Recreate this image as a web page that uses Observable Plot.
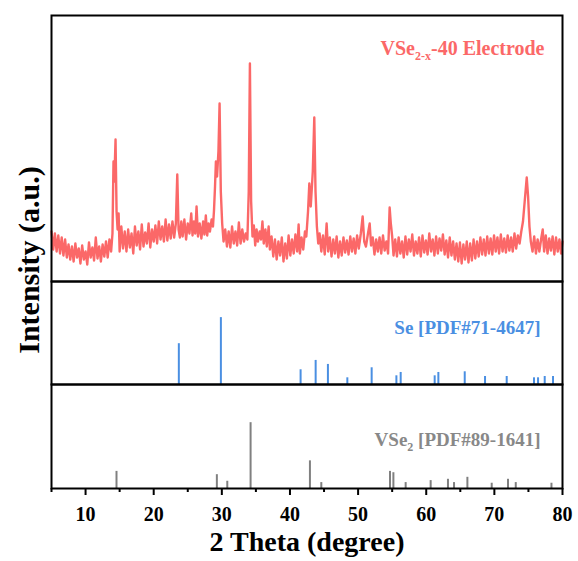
<!DOCTYPE html>
<html><head><meta charset="utf-8">
<script src="https://cdn.jsdelivr.net/npm/d3@7"></script>
<script src="https://cdn.jsdelivr.net/npm/@observablehq/plot@0.6"></script>
<style>
body{margin:0;background:#fff}
#chart{position:relative;width:578px;height:561px;font-family:"Liberation Serif",serif}
#chart svg{display:block}
#ylab{position:absolute;left:29px;top:260px;transform:translate(-50%,-50%) rotate(-90deg);font-weight:bold;font-size:30px;font-family:"Liberation Serif",serif;white-space:nowrap;color:#000}
</style></head><body><div id="chart"><span id="ylab">Intensity (a.u.)</span></div>
<script>
// XRD pattern of VSe2-x-40 electrode: [2θ, intensity (a.u.)]
const electrode = [[5.00,50],[5.25,32],[5.50,48],[5.75,30],[6.00,46],[6.25,28],[6.50,44],[6.75,26],[7.00,42],[7.25,24],[7.50,37],[7.75,22],[8.00,35],[8.25,20],[8.50,38],[8.75,24],[9.00,33],[9.25,18],[9.50,36],[9.75,22],[10.00,30],[10.25,17],[10.50,39],[10.75,24],[11.00,34],[11.25,21],[11.50,44],[11.75,23],[12.00,35],[12.25,20],[12.50,37],[12.75,25],[13.00,40],[13.25,24],[13.50,42],[13.75,30],[13.95,48],[14.10,120],[14.22,100],[14.40,142],[14.55,70],[14.70,52],[14.85,68],[15.00,30],[15.25,55],[15.50,33],[15.75,50],[16.00,30],[16.25,52],[16.50,34],[16.75,48],[17.00,28],[17.25,55],[17.50,36],[17.75,50],[18.00,32],[18.25,57],[18.50,35],[18.75,49],[19.00,38],[19.25,58],[19.50,34],[19.75,52],[20.00,40],[20.25,56],[20.50,38],[20.75,60],[21.00,42],[21.25,55],[21.50,40],[21.75,62],[22.00,41],[22.25,57],[22.50,43],[22.75,60],[23.00,44],[23.25,58],[23.46,107],[23.65,52],[23.85,44],[24.05,60],[24.25,45],[24.50,62],[24.75,42],[25.00,58],[25.25,48],[25.51,68],[25.70,46],[25.90,60],[26.10,48],[26.29,75],[26.50,45],[26.75,58],[27.00,43],[27.25,60],[27.45,47],[27.65,66],[27.85,46],[28.05,58],[28.25,50],[28.50,62],[28.70,55],[28.85,71],[29.00,95],[29.13,120],[29.30,105],[29.50,130],[29.67,178],[29.85,90],[30.05,58],[30.25,40],[30.50,52],[30.75,35],[31.00,50],[31.25,34],[31.50,55],[31.75,38],[32.00,50],[32.25,36],[32.50,59],[32.75,38],[33.00,52],[33.25,40],[33.50,48],[33.75,42],[33.95,90],[34.12,218],[34.30,80],[34.50,45],[34.70,56],[34.90,36],[35.10,52],[35.30,40],[35.55,50],[35.75,42],[35.96,60],[36.15,38],[36.40,52],[36.60,35],[36.87,55],[37.05,32],[37.30,45],[37.55,25],[37.80,42],[38.05,22],[38.30,40],[38.55,26],[38.80,44],[39.05,20],[39.30,38],[39.55,23],[39.80,46],[40.05,26],[40.30,42],[40.55,28],[40.80,47],[41.05,30],[41.27,57],[41.45,28],[41.70,44],[41.95,32],[42.20,50],[42.40,45],[42.65,70],[42.84,98],[43.05,75],[43.35,110],[43.57,164],[43.75,90],[43.95,55],[44.15,38],[44.35,48],[44.60,30],[44.85,46],[45.10,27],[45.38,58],[45.60,30],[45.85,44],[46.10,25],[46.35,42],[46.60,28],[46.85,45],[47.10,24],[47.35,40],[47.60,26],[47.85,44],[48.10,29],[48.35,41],[48.60,27],[48.85,45],[49.10,30],[49.35,43],[49.60,28],[49.85,46],[50.10,33],[50.40,48],[50.67,65],[50.90,40],[51.15,35],[51.45,48],[51.70,58],[51.90,36],[52.15,44],[52.40,27],[52.65,42],[52.90,30],[53.15,44],[53.40,28],[53.65,46],[53.90,31],[54.15,40],[54.40,28],[54.63,74],[54.80,58],[55.00,45],[55.20,26],[55.45,42],[55.70,25],[55.95,44],[56.20,28],[56.45,40],[56.70,24],[56.95,45],[57.20,27],[57.45,42],[57.70,30],[57.95,47],[58.20,26],[58.45,40],[58.70,28],[58.95,44],[59.20,25],[59.45,46],[59.70,29],[59.95,41],[60.20,27],[60.45,48],[60.70,30],[60.95,42],[61.20,26],[61.45,45],[61.70,28],[61.95,43],[62.20,31],[62.45,47],[62.70,27],[62.95,41],[63.20,24],[63.45,44],[63.70,26],[63.95,40],[64.20,22],[64.45,38],[64.70,20],[64.95,39],[65.20,18],[65.45,37],[65.70,22],[65.95,40],[66.20,19],[66.45,38],[66.70,21],[66.95,42],[67.20,23],[67.45,40],[67.70,25],[67.95,44],[68.20,27],[68.45,42],[68.70,26],[68.95,45],[69.20,28],[69.45,43],[69.70,27],[69.95,46],[70.20,30],[70.45,44],[70.70,28],[70.95,47],[71.20,30],[71.45,43],[71.70,29],[71.95,46],[72.20,31],[72.45,44],[72.70,30],[72.95,48],[73.20,33],[73.45,46],[73.70,38],[73.95,50],[74.20,60],[74.45,80],[74.75,104],[74.95,85],[75.15,55],[75.35,40],[75.60,30],[75.85,45],[76.10,28],[76.35,42],[76.60,30],[76.90,44],[77.10,52],[77.30,30],[77.55,46],[77.80,28],[78.05,43],[78.30,31],[78.55,45],[78.80,27],[79.05,44],[79.30,30],[79.55,42],[79.80,28],[80.00,40]];

// Se reference pattern [PDF#71-4647]
const seTheta = [23.69, 29.86, 41.56, 43.77, 45.57, 48.42, 51.99, 55.62, 56.25, 61.24, 61.78, 65.65, 68.63, 71.81, 75.82, 76.41, 77.39, 78.61];
const seIntensity = [61, 100, 22, 36, 30, 10, 25, 13, 18, 13, 18, 19, 12, 12, 10, 10, 12, 12];

// VSe2 reference pattern [PDF#89-1641]
const vse2Theta = [14.54, 29.27, 30.8, 34.22, 42.93, 44.6, 54.68, 55.18, 56.98, 60.65, 63.19, 64.08, 66.04, 69.61, 72.0, 73.14, 78.38];
const vse2Intensity = [26, 21, 11, 100, 42, 9, 26, 24, 9, 12, 14, 9, 17, 8, 14, 9, 8];

const xMajorTicks = [10, 20, 30, 40, 50, 60, 70, 80];
const xTickLabels = ["10", "20", "30", "40", "50", "60", "70", "80"];
const xMinorTicks = [5, 15, 25, 35, 45, 55, 65, 75];

const red = "#fb6868", blue = "#4a8fe2", gray = "#808080";
const font = "Liberation Serif";
const common = {width: 578, marginLeft: 51, marginRight: 16, style: {fontFamily: font, overflow: "visible", background: "transparent"}};

const p1 = Plot.plot({
  ...common, height: 281, marginTop: 15, marginBottom: 0,
  x: {domain: [5, 80], axis: null},
  y: {domain: [0, 266], axis: null},
  marks: [
    Plot.line(electrode, {x: d => d[0], y: d => d[1], stroke: red, strokeWidth: 2.4, strokeLinejoin: "round"}),
    Plot.frame({stroke: "#000", strokeWidth: 2}),
    Plot.text(["VSe2-x-40 Electrode"], {text: d => d, frameAnchor: "top-right", dx: -18, dy: 39, lineAnchor: "bottom", textAnchor: "end", fill: red, fontSize: 20, fontWeight: "bold"})
  ]
});

const p2 = Plot.plot({
  ...common, height: 103, marginTop: 0, marginBottom: 0,
  x: {domain: [5, 80], axis: null},
  y: {domain: [0, 154], axis: null},
  marks: [
    Plot.ruleX(seTheta, {x: d => d, y1: 0, y2: (d, i) => seIntensity[i], stroke: blue, strokeWidth: 2}),
    Plot.frame({stroke: "#000", strokeWidth: 2}),
    Plot.text(["Se [PDF#71-4647]"], {text: d => d, frameAnchor: "top-right", dx: -22, dy: 52, lineAnchor: "bottom", textAnchor: "end", fill: blue, fontSize: 19, fontWeight: "bold"})
  ]
});

const p3 = Plot.plot({
  ...common, height: 177, marginTop: 0, marginBottom: 73,
  x: {domain: [5, 80]},
  y: {domain: [0, 158], axis: null},
  marks: [
    Plot.ruleX(vse2Theta, {x: d => d, y1: 0, y2: (d, i) => vse2Intensity[i], stroke: gray, strokeWidth: 2}),
    Plot.frame({stroke: "#000", strokeWidth: 2}),
    Plot.axisX({ticks: xMinorTicks, tickSize: 4, text: null, strokeWidth: 2, label: null}),
    Plot.axisX({ticks: xMajorTicks, tickSize: 7, tickPadding: 11, tickFormat: (d) => xTickLabels[xMajorTicks.indexOf(d)], fontSize: 20, fontWeight: "bold", strokeWidth: 2, label: null, fill: "#000"}),
    Plot.text(["VSe2 [PDF#89-1641]"], {text: d => d, frameAnchor: "top-right", dx: -22, dy: 61, lineAnchor: "bottom", textAnchor: "end", fill: "#888", fontSize: 19, fontWeight: "bold"}),
    Plot.text(["2 Theta (degree)"], {text: d => d, frameAnchor: "bottom", dy: 62, lineAnchor: "bottom", fontSize: 28, fontWeight: "bold", fill: "#000"})
  ]
});

const chart = document.getElementById("chart");
chart.appendChild(p1); chart.appendChild(p2); chart.appendChild(p3);

// subscripts via tspans
function subscriptify(svg, full, parts) {
  d3.select(svg).selectAll("text").filter(function() { return this.textContent === full; }).each(function() {
    const t = d3.select(this);
    t.text("");
    parts.forEach(([s, sub], i) => {
      const ts = t.append("tspan").text(s);
      if (sub) ts.attr("font-size", 12).attr("dy", 5);
      else if (i > 0) ts.attr("dy", -5);
    });
  });
}
subscriptify(p1, "VSe2-x-40 Electrode", [["VSe", false], ["2-x", true], ["-40 Electrode", false]]);
subscriptify(p3, "VSe2 [PDF#89-1641]", [["VSe", false], ["2", true], [" [PDF#89-1641]", false]]);
</script>
</body></html>
